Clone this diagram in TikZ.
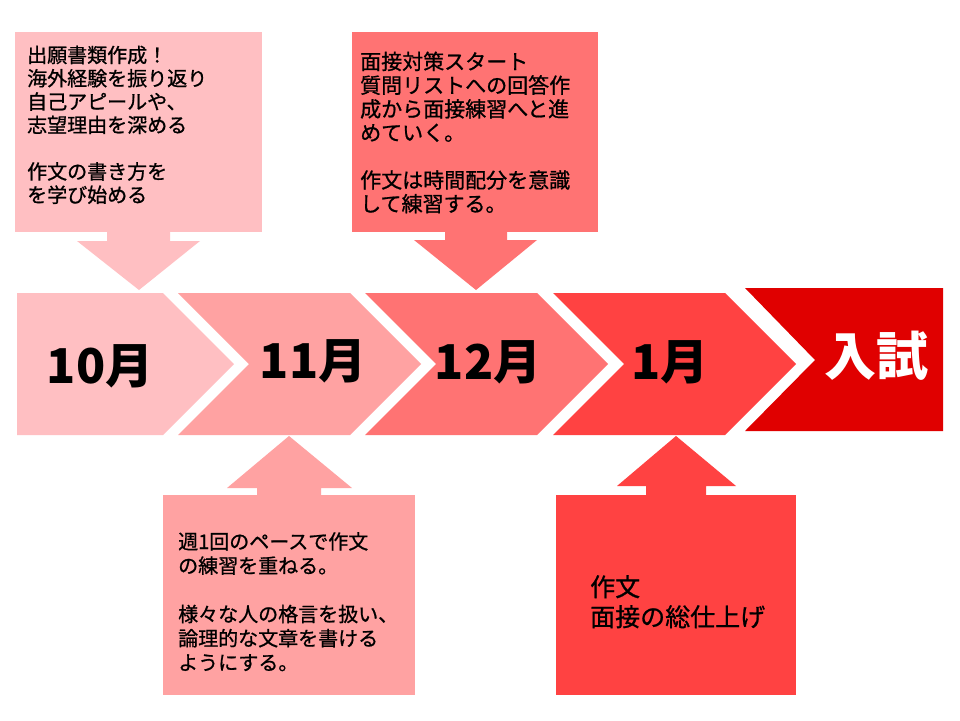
\documentclass[tikz,border=0pt]{standalone}
\usepackage{fontspec}
\setmainfont{Noto Sans CJK JP}
\newfontfamily\jptxt[FakeBold=0.9]{Noto Sans CJK JP}
\definecolor{cA}{RGB}{255,191,194}
\definecolor{cB}{RGB}{255,162,162}
\definecolor{cC}{RGB}{255,115,115}
\definecolor{cD}{RGB}{255,66,66}
\definecolor{cE}{RGB}{224,0,0}
\tikzset{
  month/.style={font=\fontsize{48}{48}\selectfont\bfseries, text=black, inner sep=0pt},
  boxshape/.style={anchor=north west, inner sep=0pt, draw=none},
  txt/.style={anchor=north west, align=left, inner sep=0pt, text=black},
}
\begin{document}
\begin{tikzpicture}[x=1pt,y=-1pt]
\useasboundingbox (0,0) rectangle (960,720);
\fill[white] (0,0) rectangle (960,720);

% chevrons
\fill[cA] (17,293) -- (163,293) -- (234,364) -- (163,435) -- (17,435) -- cycle;
\fill[cB] (178,293) -- (350,293) -- (421,364) -- (350,435) -- (178,435) -- (249,364) -- cycle;
\fill[cC] (365,293) -- (537,293) -- (608,364) -- (537,435) -- (365,435) -- (436,364) -- cycle;
\fill[cD] (553,293) -- (725,293) -- (796,364) -- (725,435) -- (553,435) -- (624,364) -- cycle;
\fill[cE] (745,288) -- (943,288) -- (943,431) -- (745,431) -- (815,360) -- cycle;

\node[month] (m10) at (100,366) {10月};
\node[month] (m11) at (313,361) {11月};
\node[month] (m12) at (488,362) {12月};
\node[month] (m1) at (670,362) {1月};
\node[month, text=white, font=\fontsize{52}{52}\selectfont\bfseries] (exam) at (876,356) {入試};

% callout boxes
\node[boxshape, fill=cA, minimum width=247, minimum height=200] (b1) at (15,32) {};
\node[boxshape, fill=cC, minimum width=246, minimum height=200] (b2) at (352,32) {};
\node[boxshape, fill=cB, minimum width=252, minimum height=200] (b3) at (163,495) {};
\node[boxshape, fill=cD, minimum width=240, minimum height=200] (b4) at (556,495) {};

% block arrows
\coordinate (p1) at (139,290);
\coordinate (p2) at (476,290);
\coordinate (p3) at (289,436);
\coordinate (p4) at (676,436);
\fill[cA] (107,231) -- (170,231) -- (170,241) -- (200,241) -- (p1) -- (77,241) -- (107,241) -- cycle;
\fill[cC] (445,231) -- (507,231) -- (507,240) -- (537,240) -- (p2) -- (414,240) -- (445,240) -- cycle;
\fill[cB] (257,496) -- (321,496) -- (321,488) -- (352,488) -- (p3) -- (227,488) -- (257,488) -- cycle;
\fill[cD] (646,496) -- (706,496) -- (706,486) -- (736,486) -- (p4) -- (617,486) -- (646,486) -- cycle;

% texts
\node[txt, font=\jptxt\fontsize{20}{23.3}\selectfont] (t1) at (27,45.5)
  {出願書類作成！\\海外経験を振り返り\\自己アピールや、\\志望理由を深める\\ \\作文の書き方を\\を学び始める};
\node[txt, font=\jptxt\fontsize{21}{23.7}\selectfont] (t2) at (360,51.5)
  {面接対策スタート\\質問リストへの回答作\\成から面接練習へと進\\めていく。\\ \\作文は時間配分を意識\\して練習する。};
\node[txt, font=\jptxt\fontsize{20}{24.2}\selectfont] (t3) at (178,532)
  {週1回のペースで作文\\の練習を重ねる。\\ \\様々な人の格言を扱い、\\論理的な文章を書ける\\ようにする。};
\node[txt, font=\jptxt\fontsize{25}{30}\selectfont] (t4) at (590,575)
  {作文\\面接の総仕上げ};
\end{tikzpicture}
\end{document}
